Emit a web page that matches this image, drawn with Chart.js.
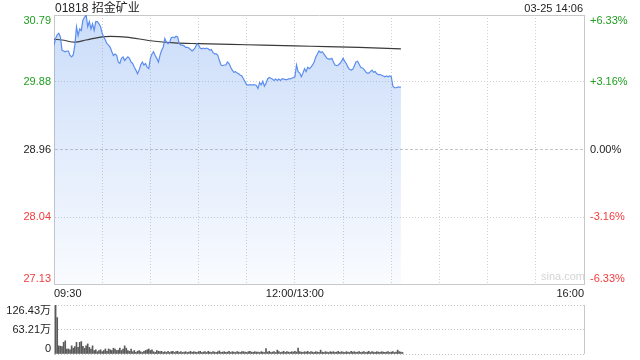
<!DOCTYPE html>
<html>
<head>
<meta charset="utf-8">
<script src="https://cdn.jsdelivr.net/npm/chart.js@4.4.1/dist/chart.umd.min.js"></script>
<style>
  body { margin: 0; background: #fff; width: 640px; height: 360px; overflow: hidden; position: relative;
         font-family: "Liberation Sans", Arial, "Noto Sans CJK SC", sans-serif; }
  #priceBox { position: absolute; left: 0; top: 0; width: 640px; height: 300px; }
  #volBox { position: absolute; left: 0; top: 300px; width: 640px; height: 60px; }
  .title { position: absolute; left: 55px; top: 0; font-size: 12px; line-height: 16px; color: #222; }
  .stamp { position: absolute; right: 57px; top: 1px; font-size: 11px; line-height: 15px; color: #222; }
  .mark { position: absolute; left: 541px; top: 270px; font-size: 11px; line-height: 13px; color: #d4d4d4; }
</style>
</head>
<body>
<div id="priceBox"><canvas id="priceChart" width="640" height="300"></canvas></div>
<div id="volBox"><canvas id="volChart" width="640" height="60"></canvas></div>
<div class="title">01818 招金矿业</div>
<div class="stamp">03-25 14:06</div>
<div class="mark">sina.com</div>
<script>
// 9:30-12:00 then 13:01-14:06, one value per minute
const morningPrice = [
  30.38, 30.47, 30.52, 30.54, 30.49, 30.31, 30.30, 30.29, 30.30, 30.30,
  30.24, 30.22, 30.25, 30.38, 30.63, 30.51, 30.60, 30.58, 30.72, 30.76,
  30.79, 30.63, 30.70, 30.60, 30.67, 30.58, 30.70, 30.70, 30.67, 30.63,
  30.54, 30.49, 30.45, 30.40, 30.38, 30.35, 30.29, 30.24, 30.26, 30.24,
  30.15, 30.13, 30.20, 30.22, 30.17, 30.20, 30.22, 30.20, 30.15, 30.13,
  30.08, 30.04, 29.99, 30.04, 30.11, 30.15, 30.11, 30.13, 30.08, 30.06,
  30.20, 30.26, 30.29, 30.24, 30.20, 30.15, 30.24, 30.31, 30.35, 30.47,
  30.42, 30.40,
  30.42, 30.48, 30.49, 30.48, 30.50, 30.49, 30.40, 30.38, 30.38, 30.37,
  30.35, 30.35, 30.34, 30.32, 30.30, 30.32, 30.35, 30.40, 30.38, 30.34,
  30.33, 30.34, 30.33, 30.34, 30.33, 30.31, 30.32, 30.28, 30.26, 30.26,
  30.24, 30.17, 30.11, 30.10, 30.11, 30.11, 30.15, 30.13, 30.08, 30.04,
  30.01, 30.02, 30.00, 29.99, 29.97, 29.96, 29.92, 29.88, 29.84, 29.84,
  29.84, 29.84, 29.84, 29.84, 29.83, 29.79, 29.87, 29.84, 29.89, 29.82,
  29.86, 29.92, 29.94, 29.93, 29.92, 29.90, 29.92, 29.90, 29.92, 29.90,
  29.92, 29.92,
  29.91, 29.91, 29.92, 29.92, 29.93, 29.94, 29.95
];
const afternoonPrice = [
  30.11, 30.02, 30.00, 29.95, 30.00, 30.06, 30.02, 30.08, 30.06, 30.08,
  30.11, 30.15, 30.22, 30.26, 30.30, 30.28, 30.29, 30.26, 30.23, 30.20,
  30.19, 30.19, 30.20, 30.15, 30.11, 30.10, 30.11, 30.13, 30.16, 30.20,
  30.16, 30.13, 30.08, 30.05, 30.04, 30.05, 30.10, 30.15, 30.16, 30.12,
  30.08, 30.07, 30.05, 30.02, 30.00, 30.00, 30.02, 30.04, 30.01, 30.02,
  29.99, 29.98, 29.98, 29.97, 29.96, 29.95, 29.96, 29.95, 29.96, 29.95,
  29.82, 29.80, 29.80, 29.81, 29.81, 29.81
];
// average price line, read at a few minutes
const avgMinutes = [0, 5, 13, 20, 29, 35, 45, 60, 75, 90, 110, 130, 150, 170, 190, 216];
const avgPrices = [30.46, 30.45, 30.42, 30.45, 30.49, 30.50, 30.49, 30.44, 30.41, 30.40, 30.39, 30.38, 30.37, 30.36, 30.35, 30.33];
// volume in 万 shares per minute
const volume = [
  126.43, 94, 21, 20, 19, 30, 34, 13, 13, 11,
  21, 15, 19, 30, 17, 30, 32, 20, 15, 21,
  26, 17, 13, 21, 9, 11, 6, 9, 11, 6,
  9, 13, 7, 13, 11, 9, 15, 13, 9, 10,
  15, 9, 13, 21, 15, 9, 7, 13, 6, 9,
  4, 7, 9, 6, 4, 7, 9, 11, 13, 9,
  11, 6, 4, 9, 7, 6, 7, 4, 6, 4,
  7, 4, 6, 7, 4, 6, 7, 4, 6, 4,
  5, 6, 4, 5, 7, 4, 6, 5, 4, 6,
  7, 4, 5, 6, 4, 7, 5, 4, 6, 5,
  4, 6, 8, 4, 5, 6, 4, 5, 7, 4,
  6, 5, 4, 6, 5, 4, 6, 6, 5, 4,
  6, 7, 5, 4, 6, 5, 5, 4, 6, 5,
  4, 14, 5, 7, 4, 5, 6, 4, 10, 6,
  4, 5, 7, 4, 6, 5, 4, 6, 5, 7, 5,
  15, 6, 5, 4, 6, 5, 7, 4, 6, 5,
  4, 6, 5, 4, 10, 5, 4, 6, 5, 4,
  6, 5, 6, 4, 5, 7, 4, 6, 5, 4,
  6, 5, 4, 7, 5, 6, 4, 5, 6, 4,
  5, 6, 4, 5, 7, 4, 6, 5, 4, 6,
  5, 4, 6, 5, 4, 5, 6, 4, 5, 6,
  4, 5, 10, 6, 5, 4
];

const prevClose = 28.96;
const priceTicks = [27.13, 28.04, 28.96, 29.88, 30.79];
const priceLabels = ['27.13', '28.04', '28.96', '29.88', '30.79'];
const pctTicks = [-6.33, -3.16, 0, 3.16, 6.33];
const pctLabels = ['-6.33%', '-3.16%', '0.00%', '+3.16%', '+6.33%'];
const gridMinutes = [0, 30, 60, 90, 120, 150, 180, 210, 240, 270, 300, 330];
const timeTickMinutes = [0, 150, 330];
const timeLabels = ['09:30', '12:00/13:00', '16:00'];
const volTicks = [0, 63.215, 126.43];
const volLabels = ['0', '63.21万', '126.43万'];

const GREEN = '#1f9e1f', RED = '#f23b3b', DARK = '#222';
const BORDER = '#c8c8c8', DOTS = '#cfcfcf';

Chart.defaults.font.family = '"Liberation Sans", Arial, "Noto Sans CJK SC", sans-serif';
Chart.defaults.font.size = 11;

const price = morningPrice.concat(afternoonPrice);

// first/last labels are nudged inside the plot, like the original
function edgeLabel(text, i, n) {
  if (i === n - 1) return ['', text];
  if (i === 0) return [text, ''];
  return text;
}
function signColor(v) { return v > 0.0001 ? GREEN : v < -0.0001 ? RED : DARK; }

new Chart(document.getElementById('priceChart'), {
  type: 'line',
  data: {
    datasets: [{
      data: price.map((p, i) => ({ x: i, y: p })),
      borderColor: '#5b8def', borderWidth: 1.2, pointRadius: 0, tension: 0,
      fill: 'start', order: 0,
      backgroundColor(c) {
        const a = c.chart.chartArea;
        if (!a) return 'rgba(0,0,0,0)';
        const g = c.chart.ctx.createLinearGradient(0, a.top, 0, a.bottom);
        g.addColorStop(0, 'rgba(110,160,240,0.36)');
        g.addColorStop(1, 'rgba(110,160,240,0.04)');
        return g;
      }
    }, {
      data: avgMinutes.map((m, i) => ({ x: m, y: avgPrices[i] })),
      borderColor: '#3a3a3a', borderWidth: 1.2, pointRadius: 0,
      cubicInterpolationMode: 'monotone', fill: false, order: 1
    }]
  },
  options: {
    responsive: false, animation: false, events: [],
    layout: { padding: { top: 15, left: 0, right: 0, bottom: 0 } },
    plugins: { legend: { display: false }, tooltip: { enabled: false }, filler: { drawTime: 'beforeDatasetsDraw' } },
    scales: {
      x: {
        type: 'linear', min: 0, max: 330,
        afterBuildTicks(s) { s.ticks = gridMinutes.map(v => ({ value: v })); },
        afterFit(s) { s.height = 16; s.paddingLeft = 0; s.paddingRight = 0; },
        ticks: {
          autoSkip: false, maxRotation: 0, align: 'inner', padding: 3, color: DARK,
          callback(v) { const k = timeTickMinutes.indexOf(v); return k >= 0 ? timeLabels[k] : ''; }
        },
        grid: {
          drawTicks: false, offset: false,
          color: c => (c.tick && (c.tick.value === 0 || c.tick.value === 330)) ? BORDER : DOTS
        },
        border: {
          display: true, color: BORDER,
          dash: c => (c.type === 'tick' && c.tick.value !== 0 && c.tick.value !== 330) ? [1, 2] : []
        }
      },
      y: {
        position: 'left', min: 27.13, max: 30.79,
        afterBuildTicks(s) { s.ticks = priceTicks.map(v => ({ value: v })); },
        afterFit(s) { s.width = 54; s.paddingTop = 0; s.paddingBottom = 0; },
        ticks: {
          autoSkip: false, padding: 3, font: { size: 11, lineHeight: 1 },
          color: c => signColor(c.tick.value - prevClose),
          callback(v, i, arr) { return edgeLabel(priceLabels[i], i, arr.length); }
        },
        grid: {
          drawTicks: false,
          color(c) {
            if (!c.tick) return DOTS;
            const v = c.tick.value;
            if (v === 30.79 || v === 27.13) return BORDER;
            return v === prevClose ? '#c4c4c4' : DOTS;
          }
        },
        border: {
          display: true, color: BORDER,
          dash(c) {
            if (c.type !== 'tick') return [];
            const v = c.tick.value;
            if (v === 30.79 || v === 27.13) return [];
            return v === prevClose ? [3, 2] : [1, 2];
          }
        }
      },
      pct: {
        position: 'right', min: -6.33, max: 6.33,
        afterBuildTicks(s) { s.ticks = pctTicks.map(v => ({ value: v })); },
        afterFit(s) { s.width = 56; s.paddingTop = 0; s.paddingBottom = 0; },
        ticks: {
          autoSkip: false, padding: 6, font: { size: 11, lineHeight: 1 },
          color: c => signColor(c.tick.value),
          callback(v, i, arr) { return edgeLabel(pctLabels[i], i, arr.length); }
        },
        grid: { display: false, drawTicks: false },
        border: { display: true, color: BORDER }
      }
    }
  }
});

// bar for minute i sits just right of its tick, as in the original
new Chart(document.getElementById('volChart'), {
  type: 'bar',
  data: {
    datasets: [{
      data: volume.map((v, i) => ({ x: i + 1, y: v })),
      backgroundColor: '#5a5a5a', barThickness: 1
    }]
  },
  options: {
    responsive: false, animation: false, events: [],
    layout: { padding: { top: 5, left: 0, right: 56, bottom: 6 } },
    plugins: { legend: { display: false }, tooltip: { enabled: false } },
    scales: {
      x: {
        type: 'linear', min: 0, max: 330, offset: false,
        afterBuildTicks(s) { s.ticks = [{ value: 0 }, { value: 330 }]; },
        afterFit(s) { s.height = 0; s.paddingLeft = 0; s.paddingRight = 0; },
        ticks: { display: false, autoSkip: false },
        grid: { drawTicks: false, offset: false, color: BORDER },
        border: { display: false }
      },
      y: {
        position: 'left', min: 0, max: 126.43,
        afterBuildTicks(s) { s.ticks = volTicks.map(v => ({ value: v })); },
        afterFit(s) { s.width = 54; s.paddingTop = 0; s.paddingBottom = 0; },
        ticks: {
          autoSkip: false, padding: 3, color: DARK, font: { size: 11, lineHeight: 1 },
          callback(v, i, arr) { return edgeLabel(volLabels[i], i, arr.length); }
        },
        grid: { drawTicks: false, color: '#c4c4c4' },
        border: { display: true, color: BORDER, dash: c => c.type === 'tick' ? [1, 2] : [] }
      }
    }
  }
});
</script>
</body>
</html>
